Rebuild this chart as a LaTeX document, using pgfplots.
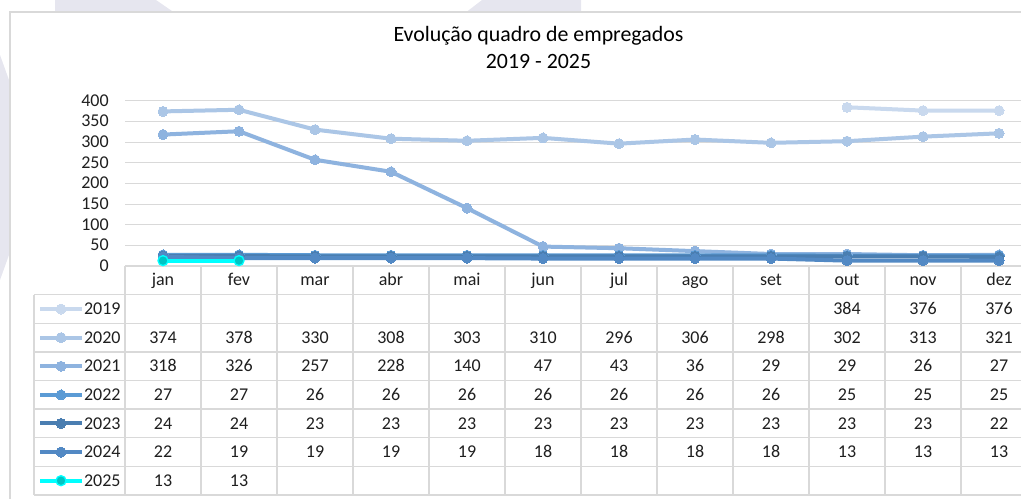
\documentclass[border=0pt]{standalone}
\usepackage{pgfplots}
\pgfplotsset{compat=1.18}
\usepackage{fontspec}
\setmainfont{Carlito}
\definecolor{cA}{HTML}{C9D9EE}
\definecolor{cB}{HTML}{ABC6E6}
\definecolor{cC}{HTML}{8EB3DF}
\definecolor{cD}{HTML}{5B9BD5}
\definecolor{cE}{HTML}{4A7EB1}
\definecolor{cF}{HTML}{5289C4}
\definecolor{cG}{HTML}{00FFFF}
\definecolor{cGm}{HTML}{00C4C4}
\definecolor{gridgray}{HTML}{D9D9D9}
\definecolor{bgshape}{HTML}{E6E6EF}
\definecolor{txt}{HTML}{1F1F1F}
\newcommand{\tfont}{\fontsize{13.5}{16}\selectfont}
\begin{document}
\begin{tikzpicture}
\path[use as bounding box, clip] (0pt,0pt) rectangle (765.75pt,-374.25pt);
\begin{scope}[x=0.75pt,y=-0.75pt]
  \fill[bgshape] (55,0) -- (156,0) -- (185,20) -- (55,20) -- cycle;
  \fill[bgshape] (482,0) -- (581,0) -- (581,20) -- (456,20) -- cycle;
  \fill[bgshape] (0,55) -- (9,80) -- (9,255) -- (0,280) -- cycle;
  \draw[gridgray, line width=1.1pt, fill=white] (10,12) rectangle (1200,700);
  \node[font=\fontsize{16.4}{19}\selectfont, anchor=base, inner sep=0pt] at (538.5,41.7) {Evolução quadro de empregados};
  \node[font=\fontsize{16.4}{19}\selectfont, anchor=base, inner sep=0pt] at (538.5,68.3) {2019 - 2025};
  % data table grid
  \draw[gridgray, line width=1pt] (125,266) -- (1100,266);
  \foreach \k in {0,...,7} {
    \draw[gridgray, line width=1pt] (34,294.7+28.61*\k) -- (1100,294.7+28.61*\k);
  }
  \draw[gridgray, line width=1pt] (34,294.7) -- (34,495);
  \foreach \k in {0,...,12} {
    \draw[gridgray, line width=1pt] (125+76*\k,266) -- (125+76*\k,495);
  }
  % data table values
  \foreach \row [count=\i from 0] in {
    {9/384,10/376,11/376},
    {0/374,1/378,2/330,3/308,4/303,5/310,6/296,7/306,8/298,9/302,10/313,11/321},
    {0/318,1/326,2/257,3/228,4/140,5/47,6/43,7/36,8/29,9/29,10/26,11/27},
    {0/27,1/27,2/26,3/26,4/26,5/26,6/26,7/26,8/26,9/25,10/25,11/25},
    {0/24,1/24,2/23,3/23,4/23,5/23,6/23,7/23,8/23,9/23,10/23,11/22},
    {0/22,1/19,2/19,3/19,4/19,5/18,6/18,7/18,8/18,9/13,10/13,11/13},
    {0/13,1/13}} {
    \foreach \j/\v in \row {
      \node[font=\tfont, text=txt, anchor=base, inner sep=0pt] at (125+76*\j+38, 294.7+28.61*\i+14.3+5.6) {\v};
    }
  }
\end{scope}
\begin{axis}[
  at={(93.75pt,-199.5pt)}, anchor=south west,
  scale only axis, width=684pt, height=124pt,
  xmin=-0.5, xmax=11.5, ymin=0, ymax=400,
  axis line style={draw=none}, tick style={draw=none},
  major tick length=0pt,
  ymajorgrids, grid style={color=gridgray, line width=0.75pt},
  ytick={0,50,...,400},
  xtick={0,...,11},
  xticklabels={jan,fev,mar,abr,mai,jun,jul,ago,set,out,nov,dez},
  xticklabel style={anchor=base, yshift=-14.6pt, inner sep=0pt},
  yticklabel style={anchor=base east, yshift=-4.2pt, xshift=-12pt, inner sep=0pt},
  ticklabel style={font=\tfont, text=txt},
  /pgf/number format/assume math mode=true,
  clip=false,
  every axis plot/.append style={line width=3pt, mark=*, mark size=3.75pt},
  legend cell align=left,
  legend style={at={(axis description cs:-0.09539,-0.1736)}, anchor=north west,
    draw=none, fill=none, inner sep=0pt, outer sep=0pt, row sep=0pt, column sep=0pt,
    font=\tfont, text=txt,
    nodes={inner sep=0pt, outer sep=0pt, text height=14.93pt, text depth=6.53pt}},
  legend image code/.code={\draw[#1, mark repeat=2, mark phase=2] plot coordinates {(0pt,0pt) (15.75pt,0pt) (31.5pt,0pt)};},
]
\addplot[color=cA, mark options={fill=cA, draw=cA, line width=0pt}] coordinates {(9,384) (10,376) (11,376)};
\addlegendentry{2019}
\addplot[color=cB, mark options={fill=cB, draw=cB, line width=0pt}] coordinates {(0,374) (1,378) (2,330) (3,308) (4,303) (5,310) (6,296) (7,306) (8,298) (9,302) (10,313) (11,321)};
\addlegendentry{2020}
\addplot[color=cC, mark options={fill=cC, draw=cC, line width=0pt}] coordinates {(0,318) (1,326) (2,257) (3,228) (4,140) (5,47) (6,43) (7,36) (8,29) (9,29) (10,26) (11,27)};
\addlegendentry{2021}
\addplot[color=cD, mark options={fill=cD, draw=cD, line width=0pt}] coordinates {(0,27) (1,27) (2,26) (3,26) (4,26) (5,26) (6,26) (7,26) (8,26) (9,25) (10,25) (11,25)};
\addlegendentry{2022}
\addplot[color=cE, mark options={fill=cE, draw=cE, line width=0pt}] coordinates {(0,24) (1,24) (2,23) (3,23) (4,23) (5,23) (6,23) (7,23) (8,23) (9,23) (10,23) (11,22)};
\addlegendentry{2023}
\addplot[color=cF, mark options={fill=cF, draw=cF, line width=0pt}] coordinates {(0,22) (1,19) (2,19) (3,19) (4,19) (5,18) (6,18) (7,18) (8,18) (9,13) (10,13) (11,13)};
\addlegendentry{2024}
\addplot[color=cG, mark options={fill=cGm, draw=cG, line width=1pt}] coordinates {(0,13) (1,13)};
\addlegendentry{2025}
\end{axis}
\end{tikzpicture}
\end{document}
